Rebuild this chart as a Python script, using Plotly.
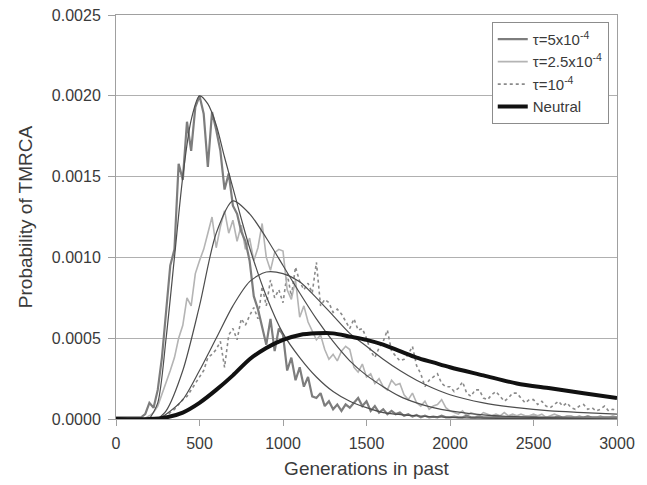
import plotly.graph_objects as go

U = 1e-4  # values below are typed in units of 1e-4

# x grid of the simulated (noisy) series, every 25 generations
G = list(range(0, 3001, 25))

sim_5e4 = [0.1, 0.1, 0.1, 0.1, 0.1, 0.1, 0.1, 0.3, 1.0, 0.7,
           1.8, 3.8, 6.5, 9.5, 10.5, 15.8, 14.8, 18.4, 16.6, 19.3,
           20.0, 18.9, 15.6, 19.0, 17.9, 16.6, 14.2, 15.2, 13.2, 12.7,
           11.6, 11.0, 9.8, 7.6, 6.8, 5.6, 4.6, 6.2, 4.2, 5.6,
           5.2, 3.0, 3.8, 2.4, 3.2, 2.0, 2.6, 1.4, 1.3, 1.6,
           0.8, 1.1, 0.6, 0.9, 0.5, 0.9, 0.7, 1.0, 1.3, 0.8,
           1.1, 0.5, 0.8, 0.4, 0.6, 0.3, 0.5, 0.3, 0.4, 0.2,
           0.3, 0.15, 0.25, 0.1, 0.2, 0.1, 0.15, 0.1, 0.2, 0.1,
           0.1, 0.15, 0.1, 0.1, 0.2, 0.1, 0.1, 0.15, 0.1, 0.1,
           0.1, 0.15, 0.1, 0.1, 0.1, 0.15, 0.1, 0.1, 0.1, 0.1,
           0.15, 0.1, 0.1, 0.1, 0.1, 0.1, 0.15, 0.1, 0.1, 0.1,
           0.1, 0.1, 0.1, 0.15, 0.1, 0.1, 0.1, 0.1, 0.1, 0.1, 0.1]

sim_25e4 = [0.05, 0.05, 0.05, 0.05, 0.05, 0.05, 0.05, 0.05, 0.2, 0.4,
            0.8, 1.5, 2.2, 3.0, 3.8, 5.0, 5.8, 7.5, 7.0, 9.0,
            9.8, 10.5, 11.5, 12.5, 10.6, 11.9, 12.9, 11.5, 12.3, 11.0,
            12.0, 10.5, 11.2, 9.8, 10.6, 12.1, 10.0, 9.2, 10.3, 10.5,
            10.4, 8.0, 7.4, 8.6, 6.3, 7.0, 6.0, 5.5, 4.9, 5.2,
            4.3, 3.7, 4.0, 3.6, 4.2, 4.5, 4.3, 3.2, 2.9, 3.4,
            2.6, 2.8, 2.2, 2.5, 2.0, 1.8, 2.4, 2.1, 2.2, 1.5,
            1.2, 1.6, 1.0, 0.8, 1.1, 0.6, 0.8, 0.9, 1.2, 0.7,
            0.5, 0.4, 0.3, 0.5, 0.2, 0.4, 0.3, 0.2, 0.4, 0.3,
            0.2, 0.3, 0.2, 0.4, 0.2, 0.3, 0.2, 0.3, 0.2, 0.2,
            0.3, 0.2, 0.3, 0.1, 0.2, 0.3, 0.2, 0.1, 0.2, 0.2,
            0.1, 0.2, 0.1, 0.2, 0.1, 0.1, 0.2, 0.1, 0.1, 0.2, 0.1]

sim_1e4 = [0.05, 0.05, 0.05, 0.05, 0.05, 0.05, 0.05, 0.05, 0.05, 0.05,
           0.05, 0.05, 0.2, 0.4, 0.6, 0.9, 1.2, 1.4, 1.8, 2.2,
           2.6, 3.0, 3.8, 4.0, 4.3, 4.8, 3.2, 5.2, 5.6, 4.9,
           6.2, 5.8, 6.4, 6.9, 6.2, 8.2, 7.0, 8.6, 7.5, 8.0,
           7.2, 9.0, 7.6, 9.4, 8.5, 8.0, 8.4, 7.8, 9.7, 7.0,
           7.4, 7.2, 6.6, 6.8, 6.5, 6.0, 5.6, 6.2, 5.5, 5.6,
           5.0, 4.2, 3.8, 4.4, 4.8, 5.5, 4.2, 3.9, 3.6, 3.7,
           4.0, 4.5, 3.3, 2.8, 2.0, 2.4, 2.6, 2.8, 2.2, 2.0,
           2.0, 1.7, 1.9, 2.3, 1.6, 1.4, 1.8, 1.8, 1.3, 1.2,
           1.5, 1.7, 1.4, 1.1, 1.3, 1.6, 1.6, 1.3, 1.0, 1.2,
           1.2, 0.9, 1.1, 0.8, 0.7, 0.9, 1.1, 0.8, 1.0, 0.7,
           0.6, 0.8, 0.9, 0.6, 0.7, 0.5, 0.6, 0.8, 0.5, 0.6, 0.5]

# smooth (fitted) curves
fit_5e4_x = [200, 250, 300, 350, 400, 450, 500, 550, 600, 650, 700, 750, 800,
             900, 1000, 1100, 1200, 1300, 1400, 1500, 1600, 1800, 2000, 2500, 3000]
fit_5e4_y = [0, 1.0, 5.0, 10.0, 15.0, 18.5, 20.0, 19.5, 18.2, 16.2, 14.3, 12.4, 10.6,
             7.6, 5.3, 3.8, 2.6, 1.7, 1.1, 0.7, 0.4, 0.2, 0.1, 0.02, 0.0]

fit_25e4_x = [250, 300, 400, 500, 600, 700, 800, 900, 1000, 1100, 1200, 1300,
              1400, 1500, 1600, 1700, 1800, 1900, 2000, 2200, 2500, 3000]
fit_25e4_y = [0, 0.5, 3.0, 7.0, 11.5, 13.5, 12.7, 11.2, 9.5, 7.8, 6.2, 4.8,
              3.6, 2.7, 2.0, 1.4, 1.0, 0.7, 0.5, 0.25, 0.1, 0.0]

fit_1e4_x = [250, 300, 400, 500, 600, 700, 800, 900, 1000, 1100, 1200, 1300,
             1400, 1500, 1600, 1700, 1800, 1900, 2000, 2200, 2400, 2600, 2800, 3000]
fit_1e4_y = [0, 0.3, 1.2, 3.0, 5.0, 7.0, 8.5, 9.1, 9.0, 8.5, 7.5, 6.4,
             5.3, 4.5, 3.7, 3.0, 2.4, 1.9, 1.5, 1.0, 0.7, 0.5, 0.4, 0.3]

neutral_x = [0, 200, 300, 400, 500, 600, 700, 800, 900, 1000, 1100, 1200, 1300,
             1400, 1500, 1600, 1700, 1800, 1900, 2000, 2200, 2400, 2600, 2800, 3000]
neutral_y = [0, 0, 0.1, 0.4, 1.0, 1.8, 2.7, 3.7, 4.4, 4.9, 5.2, 5.3, 5.3,
             5.1, 4.9, 4.6, 4.2, 3.8, 3.5, 3.2, 2.7, 2.2, 1.9, 1.6, 1.3]

y_ticks = [0, 0.0005, 0.001, 0.0015, 0.002, 0.0025]
y_tick_text = ["0.0000", "0.0005", "0.0010", "0.0015", "0.0020", "0.0025"]
x_ticks = [0, 500, 1000, 1500, 2000, 2500, 3000]

names = ["τ=5x10<sup>-4</sup>", "τ=2.5x10<sup>-4</sup>", "τ=10<sup>-4</sup>", "Neutral"]

def sc(v):
    return [a * U for a in v]

FIT_COLOR = "#4d4d4d"
fig = go.Figure()
fig.add_trace(go.Scatter(x=G, y=sc(sim_1e4), mode="lines", name=names[2], legendrank=3,
                         line=dict(color="#8a8a8a", width=1.6, dash="dot")))
fig.add_trace(go.Scatter(x=G, y=sc(sim_25e4), mode="lines", name=names[1], legendrank=2,
                         line=dict(color="#b4b4b4", width=1.6)))
fig.add_trace(go.Scatter(x=G, y=sc(sim_5e4), mode="lines", name=names[0], legendrank=1,
                         line=dict(color="#7d7d7d", width=2.2)))
for fx, fy in [(fit_5e4_x, fit_5e4_y), (fit_25e4_x, fit_25e4_y), (fit_1e4_x, fit_1e4_y)]:
    fig.add_trace(go.Scatter(x=fx, y=sc(fy), mode="lines", showlegend=False,
                             line=dict(color=FIT_COLOR, width=1.2, shape="spline", smoothing=0.8)))
fig.add_trace(go.Scatter(x=neutral_x, y=sc(neutral_y), mode="lines", name=names[3], legendrank=4,
                         line=dict(color="#111111", width=4, shape="spline", smoothing=0.8)))

fig.update_layout(
    width=647, height=485,
    margin=dict(l=108, r=38, t=7, b=74, autoexpand=False),
    paper_bgcolor="white", plot_bgcolor="white",
    font=dict(family="Liberation Sans, Arial, sans-serif", size=16, color="#3a3a3a"),
    legend=dict(x=0.75, y=0.983, xanchor="left", yanchor="top",
                bordercolor="#8c8c8c", borderwidth=1, bgcolor="white",
                traceorder="normal", font=dict(size=15, color="#3a3a3a"),
                itemwidth=30, tracegroupgap=0),
    showlegend=True,
)
fig.update_xaxes(range=[0, 3000], tickvals=x_ticks, automargin=False,
                 showgrid=False, zeroline=False,
                 showline=True, linecolor="#a0a0a0", linewidth=1, mirror=True,
                 ticks="outside", ticklen=6, tickcolor="#a0a0a0", ticklabelstandoff=4,
                 ticklabeloverflow="allow",
                 title=dict(text="Generations in past", font=dict(size=19), standoff=10))
fig.update_yaxes(range=[0, 0.0025005], tickvals=y_ticks, ticktext=y_tick_text, automargin=False,
                 showgrid=True, gridcolor="#b0b0b0", gridwidth=1.3, zeroline=False,
                 showline=True, linecolor="#a0a0a0", linewidth=1, mirror=True,
                 ticks="outside", ticklen=7, tickcolor="#a0a0a0", ticklabelstandoff=4,
                 ticklabeloverflow="allow",
                 title=dict(text="Probability of TMRCA", font=dict(size=19), standoff=14))

fig.write_html("out.html")
